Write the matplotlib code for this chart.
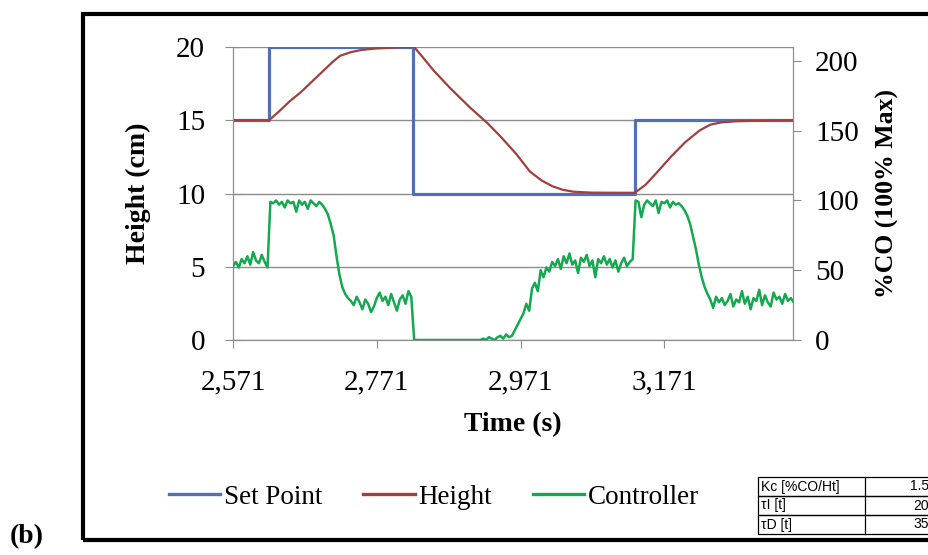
import numpy as np
import matplotlib
matplotlib.use("Agg")
import matplotlib.pyplot as plt
from matplotlib.lines import Line2D
from matplotlib.patches import Rectangle
from matplotlib.ticker import FuncFormatter

# ---------------- data ----------------
sp_time = [2571, 2621, 2822, 3130, 3350]
sp_value = [15, 20, 10, 15, 15]

height_time = [2571, 2621, 2635, 2650, 2665, 2680, 2695, 2710, 2720, 2735, 2750,
               2770, 2790, 2810, 2823, 2835, 2850, 2873, 2900, 2925, 2943, 2965,
               2984, 3000, 3015, 3030, 3045, 3070, 3100, 3130, 3145, 3160, 3180,
               3200, 3220, 3235, 3250, 3270, 3300, 3350]
height_value = [15.0, 15.0, 15.6, 16.3, 16.9, 17.6, 18.3, 19.0, 19.4, 19.65, 19.8,
                19.9, 19.95, 20.0, 20.0, 19.3, 18.4, 17.2, 15.9, 14.8, 13.9, 12.7,
                11.5, 10.9, 10.5, 10.25, 10.12, 10.06, 10.05, 10.05, 10.6, 11.4, 12.5,
                13.5, 14.3, 14.7, 14.85, 14.93, 14.97, 15.0]

ctrl_start = 2571
ctrl_step = 4
ctrl_value = [
    53, 56, 52, 58, 55, 60, 54, 63, 57, 55,
    61, 56, 52, 99, 98, 100, 97, 99, 95, 100,
    98, 99, 92, 100, 97, 99, 94, 100, 98, 96,
    99, 97, 94, 90, 83, 75, 60, 47, 38, 33,
    30, 28, 25, 31, 27, 22, 29, 26, 20, 24,
    30, 34, 28, 31, 25, 33, 27, 21, 29, 32,
    26, 35, 31, 0, 0, 0, 0, 0, 0, 0,
    0, 0, 0, 0, 0, 0, 0, 0, 0, 0,
    0, 0, 0, 0, 0, 0, 0, 1, 0, 2,
    1, 0, 2, 3, 1, 4, 2, 3, 7, 11,
    15, 19, 26, 21, 37, 41, 35, 50, 45, 52,
    49, 56, 53, 58, 51, 60, 55, 62, 54, 57,
    48, 59, 56, 61, 53, 57, 45, 58, 55, 60,
    54, 58, 52, 57, 49, 55, 59, 53, 56, 58,
    100, 99, 88, 97, 100, 98, 96, 100, 91, 99,
    98, 100, 95, 99, 97, 98, 96, 93, 89, 83,
    74, 65, 54, 45, 38, 33, 29, 23, 31, 27,
    30, 25, 28, 33, 24, 29, 27, 35, 26, 31,
    22, 30, 28, 36, 25, 32, 27, 24, 34, 29,
    31, 26, 33, 28, 30, 27,
]
ctrl_time = ctrl_start + ctrl_step * np.arange(len(ctrl_value))

x_ticks = [2571, 2771, 2971, 3171]
left_ticks = [0, 5, 10, 15, 20]
right_ticks = [0, 50, 100, 150, 200]

table_labels = ["Kc [%CO/Ht]", "τI [t]", "τD [t]"]
table_values = ["1.5", "20", "35"]

series_names = ["Set Point", "Height", "Controller"]

# ---------------- style ----------------
c_sp = "#5470B5"
c_h = "#A0403E"
c_c = "#14A850"
grid_c = "#8C8C8C"
serif = ["Liberation Serif", "DejaVu Serif"]

fig = plt.figure(figsize=(9.29, 5.55), dpi=100)
W, H = 929, 555

def fx(px):
    return px / W

def fy(py):
    return 1 - py / H

ax = fig.add_axes([fx(233), fy(340), (793 - 233) / W, (340 - 47) / H])
ax2 = ax.twinx()

ax.plot(sp_time, sp_value, drawstyle="steps-post", color=c_sp, lw=2.3, zorder=3)
ax.plot(height_time, height_value, color=c_h, lw=1.6, zorder=4)
ax2.plot(ctrl_time, ctrl_value, color=c_c, lw=1.8, zorder=3)

ax.set_xlim(2571, 3350)
ax.set_ylim(0, 20)
ax2.set_ylim(0, 210)

ax.set_yticks(left_ticks)
ax2.set_yticks(right_ticks)
ax.set_xticks(x_ticks)
ax.xaxis.set_major_formatter(FuncFormatter(lambda v, p: f"{int(v):,}"))

ax.grid(axis="y", color=grid_c, lw=1.0)
ax.set_axisbelow(True)
for a in (ax, ax2):
    a.spines["top"].set_visible(False)
    a.spines["bottom"].set_color(grid_c)
    a.spines["left"].set_color(grid_c)
    a.spines["right"].set_color(grid_c)
    a.patch.set_visible(False)

ax.tick_params(axis="y", direction="inout", length=12, color=grid_c,
               labelsize=21, pad=14)
ax.tick_params(axis="x", direction="out", length=6, color=grid_c,
               labelsize=21, pad=15)
ax2.tick_params(axis="y", direction="out", length=6, color=grid_c,
                labelsize=21, pad=10)
for lab in ax.get_xticklabels() + ax.get_yticklabels() + ax2.get_yticklabels():
    lab.set_family(serif)

ax.set_ylabel("Height (cm)", family=serif, fontsize=20, fontweight="bold", labelpad=18)
ax2.set_ylabel("%CO (100% Max)", family=serif, fontsize=18.5, fontweight="bold",
               labelpad=12)
ax.set_xlabel("Time (s)", family=serif, fontsize=20, fontweight="bold", labelpad=12)

# legend
handles = [Line2D([], [], color=c, lw=2.4) for c in (c_sp, c_h, c_c)]
fig.legend(handles, series_names, loc="center", bbox_to_anchor=(fx(434), fy(497)),
           ncol=3, frameon=False, handlelength=1.9, handletextpad=0.15,
           columnspacing=1.5, prop={"family": serif, "size": 19.5})

# outer frame
fig.add_artist(Rectangle((fx(83), fy(540)), (W + 20 - 83) / W, (540 - 14) / H,
                         transform=fig.transFigure, fill=False, edgecolor="black",
                         lw=3.0, clip_on=False))

# parameter table
row_h = 19
top = 477
for i, (lab, val) in enumerate(zip(table_labels, table_values)):
    y0 = top + i * row_h
    fig.add_artist(Rectangle((fx(758), fy(y0 + row_h)), (940 - 758) / W, row_h / H,
                             transform=fig.transFigure, fill=False,
                             edgecolor="black", lw=0.9))
    fig.text(fx(761), fy(y0 + row_h / 2), lab, ha="left", va="center",
             fontsize=10, family=["Liberation Sans", "DejaVu Sans"])
    fig.text(fx(929), fy(y0 + row_h / 2), val, ha="right", va="center",
             fontsize=10, family=["Liberation Sans", "DejaVu Sans"])
fig.add_artist(Line2D([fx(865), fx(865)], [fy(top), fy(top + 3 * row_h)],
                      transform=fig.transFigure, color="black", lw=0.9))

fig.text(fx(10), fy(537), "(b)", ha="left", va="center", family=serif,
         fontsize=20, fontweight="bold")

fig.savefig("out.png", dpi=100)
